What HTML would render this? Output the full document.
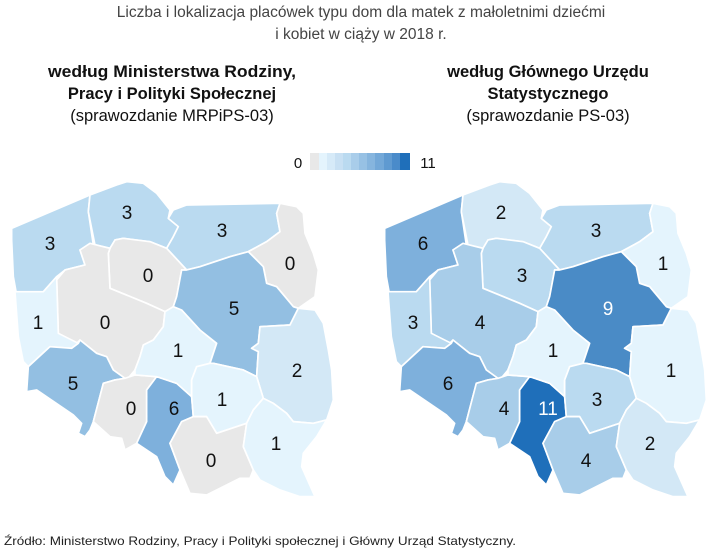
<!DOCTYPE html>
<html><head><meta charset="utf-8"><style>
body{margin:0;background:#fff;width:722px;height:551px;overflow:hidden;font-family:"Liberation Sans","DejaVu Sans",sans-serif}
</style></head><body>
<svg width="722" height="551" viewBox="0 0 722 551" xmlns="http://www.w3.org/2000/svg" font-family="Liberation Sans, DejaVu Sans, sans-serif">
<text x="361" y="17" text-anchor="middle" font-size="15.5" fill="#444">Liczba i lokalizacja placówek typu dom dla matek z małoletnimi dziećmi</text>
<text x="361" y="39" text-anchor="middle" font-size="15.5" fill="#444">i kobiet w ciąży w 2018 r.</text>
<g font-size="16.5" text-anchor="middle" fill="#111">
<text x="172" y="77" font-weight="bold" textLength="248" lengthAdjust="spacingAndGlyphs">według Ministerstwa Rodziny,</text>
<text x="172" y="99" font-weight="bold">Pracy i Polityki Społecznej</text>
<text x="172" y="121">(sprawozdanie MRPiPS-03)</text>
<text x="548" y="77" font-weight="bold">według Głównego Urzędu</text>
<text x="548" y="99" font-weight="bold">Statystycznego</text>
<text x="548" y="121">(sprawozdanie PS-03)</text>
</g>
<text x="298" y="168" font-size="15" fill="#111" text-anchor="middle">0</text>
<g>
<rect x="310" y="153" width="9" height="17" fill="#e8e8e8"/>
<rect x="319" y="153" width="8" height="17" fill="#e4f4fd"/>
<rect x="327" y="153" width="8" height="17" fill="#d6eaf8"/>
<rect x="335" y="153" width="8" height="17" fill="#c8e0f3"/>
<rect x="343" y="153" width="8" height="17" fill="#badaf0"/>
<rect x="351" y="153" width="8" height="17" fill="#a9cdea"/>
<rect x="359" y="153" width="8" height="17" fill="#97c1e4"/>
<rect x="367" y="153" width="8" height="17" fill="#86b5de"/>
<rect x="375" y="153" width="9" height="17" fill="#73a8d8"/>
<rect x="384" y="153" width="8" height="17" fill="#5f9ad1"/>
<rect x="392" y="153" width="8" height="17" fill="#4a8bca"/>
<rect x="400" y="153" width="10" height="17" fill="#1f6fba"/>
</g>
<text x="428" y="168" font-size="15" fill="#111" text-anchor="middle">11</text>

<g transform="translate(0,170) scale(0.3333)" stroke="#fff" stroke-width="5" stroke-linejoin="round">
<polygon fill="#badaf0" points="35,175 270,75 265,125 280,225 240,240 255,285 195,300 170,320 130,365 50,375 40,320 35,210"/>
<polygon fill="#badaf0" points="270,75 350,45 380,35 430,40 470,70 510,120 505,145 535,170 520,200 500,235 450,215 370,205 345,210 330,235 310,230 285,225 265,125"/>
<polygon fill="#badaf0" points="500,235 520,200 535,170 505,145 520,120 560,105 840,100 830,130 840,185 800,215 745,245 690,260 600,290 560,300"/>
<polygon fill="#e8e8e8" points="840,100 890,110 910,130 915,190 940,250 955,300 945,380 895,415 880,410 830,350 800,340 790,290 745,245 800,215 840,185 830,130"/>
<polygon fill="#e8e8e8" points="330,235 345,210 370,205 450,215 500,235 560,300 545,300 530,380 520,410 495,425 440,400 330,355 325,250"/>
<polygon fill="#e8e8e8" points="240,240 270,220 310,230 330,235 325,250 330,355 440,400 495,425 490,470 460,510 430,525 420,560 405,600 380,630 340,600 320,560 290,550 240,510 230,520 175,490 170,330 195,300 255,285"/>
<polygon fill="#e4f4fd" points="45,365 130,365 170,320 175,490 235,520 215,535 150,530 85,590 70,575 55,500"/>
<polygon fill="#93bfe2" points="85,590 150,530 215,535 235,520 240,510 290,550 320,560 340,600 375,625 345,630 310,640 280,755 270,780 255,800 235,790 245,760 220,735 110,660 80,665"/>
<polygon fill="#e8e8e8" points="310,640 345,630 375,625 405,615 470,620 440,660 440,755 410,820 375,840 365,805 330,800 280,755"/>
<polygon fill="#7eb0dc" points="470,620 530,640 575,680 580,740 545,755 510,820 540,900 520,945 495,920 470,860 410,820 440,755 440,660"/>
<polygon fill="#e4f4fd" points="495,425 520,410 545,420 600,480 650,520 630,580 590,590 575,630 575,680 530,640 470,620 405,615 405,600 420,560 430,525 460,510 490,470"/>
<polygon fill="#93bfe2" points="560,300 600,290 690,260 745,245 790,290 800,340 830,350 880,410 895,415 870,465 780,470 775,520 755,535 775,545 770,620 730,600 640,580 630,580 650,520 600,480 545,420 520,410 530,380 545,300"/>
<polygon fill="#d3e8f6" points="895,415 945,420 970,460 985,540 995,600 1000,690 980,750 940,760 880,755 860,730 820,700 790,685 770,620 775,545 755,535 775,520 780,470 870,465"/>
<polygon fill="#e4f4fd" points="575,680 575,630 590,590 630,580 640,580 730,600 770,620 790,685 760,720 740,760 650,790 620,740 580,740"/>
<polygon fill="#e8e8e8" points="545,755 580,740 620,740 650,790 740,760 730,830 760,900 750,925 720,925 670,950 620,975 570,970 540,900 510,820"/>
<polygon fill="#e4f4fd" points="740,760 760,720 790,685 820,700 860,730 880,755 940,760 980,750 950,800 910,850 905,890 945,980 900,980 840,960 780,930 760,900 730,830"/>
</g>

<g transform="translate(373,170) scale(0.3333)" stroke="#fff" stroke-width="5" stroke-linejoin="round">
<polygon fill="#7eb0dc" points="35,175 270,75 265,125 280,225 240,240 255,285 195,300 170,320 130,365 50,375 40,320 35,210"/>
<polygon fill="#d3e8f6" points="270,75 350,45 380,35 430,40 470,70 510,120 505,145 535,170 520,200 500,235 450,215 370,205 345,210 330,235 310,230 285,225 265,125"/>
<polygon fill="#badaf0" points="500,235 520,200 535,170 505,145 520,120 560,105 840,100 830,130 840,185 800,215 745,245 690,260 600,290 560,300"/>
<polygon fill="#e4f4fd" points="840,100 890,110 910,130 915,190 940,250 955,300 945,380 895,415 880,410 830,350 800,340 790,290 745,245 800,215 840,185 830,130"/>
<polygon fill="#badaf0" points="330,235 345,210 370,205 450,215 500,235 560,300 545,300 530,380 520,410 495,425 440,400 330,355 325,250"/>
<polygon fill="#a8cde9" points="240,240 270,220 310,230 330,235 325,250 330,355 440,400 495,425 490,470 460,510 430,525 420,560 405,600 380,630 340,600 320,560 290,550 240,510 230,520 175,490 170,330 195,300 255,285"/>
<polygon fill="#badaf0" points="45,365 130,365 170,320 175,490 235,520 215,535 150,530 85,590 70,575 55,500"/>
<polygon fill="#7eb0dc" points="85,590 150,530 215,535 235,520 240,510 290,550 320,560 340,600 375,625 345,630 310,640 280,755 270,780 255,800 235,790 245,760 220,735 110,660 80,665"/>
<polygon fill="#a8cde9" points="310,640 345,630 375,625 405,615 470,620 440,660 440,755 410,820 375,840 365,805 330,800 280,755"/>
<polygon fill="#1f6fba" points="470,620 530,640 575,680 580,740 545,755 510,820 540,900 520,945 495,920 470,860 410,820 440,755 440,660"/>
<polygon fill="#e4f4fd" points="495,425 520,410 545,420 600,480 650,520 630,580 590,590 575,630 575,680 530,640 470,620 405,615 405,600 420,560 430,525 460,510 490,470"/>
<polygon fill="#4a8bc6" points="560,300 600,290 690,260 745,245 790,290 800,340 830,350 880,410 895,415 870,465 780,470 775,520 755,535 775,545 770,620 730,600 640,580 630,580 650,520 600,480 545,420 520,410 530,380 545,300"/>
<polygon fill="#e4f4fd" points="895,415 945,420 970,460 985,540 995,600 1000,690 980,750 940,760 880,755 860,730 820,700 790,685 770,620 775,545 755,535 775,520 780,470 870,465"/>
<polygon fill="#badaf0" points="575,680 575,630 590,590 630,580 640,580 730,600 770,620 790,685 760,720 740,760 650,790 620,740 580,740"/>
<polygon fill="#a8cde9" points="545,755 580,740 620,740 650,790 740,760 730,830 760,900 750,925 720,925 670,950 620,975 570,970 540,900 510,820"/>
<polygon fill="#d3e8f6" points="740,760 760,720 790,685 820,700 860,730 880,755 940,760 980,750 950,800 910,850 905,890 945,980 900,980 840,960 780,930 760,900 730,830"/>
</g>

<g font-size="19" fill="#111" text-anchor="middle">
<text x="50" y="250">3</text><text x="127" y="219">3</text><text x="222" y="237">3</text>
<text x="290" y="270">0</text><text x="148" y="282">0</text><text x="105" y="329">0</text>
<text x="38" y="329">1</text><text x="234" y="315">5</text><text x="178" y="357">1</text>
<text x="297" y="377">2</text><text x="73" y="390">5</text><text x="131" y="415">0</text>
<text x="174" y="415">6</text><text x="222" y="406">1</text><text x="211" y="467">0</text><text x="276" y="450">1</text>

<text x="423" y="250">6</text><text x="501" y="219">2</text><text x="596" y="237">3</text>
<text x="663" y="270">1</text><text x="522" y="282">3</text><text x="480" y="329">4</text>
<text x="413" y="329">3</text><text x="608" y="315" fill="#fff">9</text><text x="553" y="357">1</text>
<text x="671" y="377">1</text><text x="448" y="390">6</text><text x="504" y="415">4</text>
<text x="548" y="415" fill="#fff">11</text><text x="597" y="406">3</text><text x="586" y="467">4</text><text x="650" y="450">2</text>
</g>
<text x="4" y="545" font-size="12" fill="#222" textLength="512" lengthAdjust="spacingAndGlyphs">Źródło: Ministerstwo Rodziny, Pracy i Polityki społecznej i Główny Urząd Statystyczny.</text>
</svg>
</body></html>
